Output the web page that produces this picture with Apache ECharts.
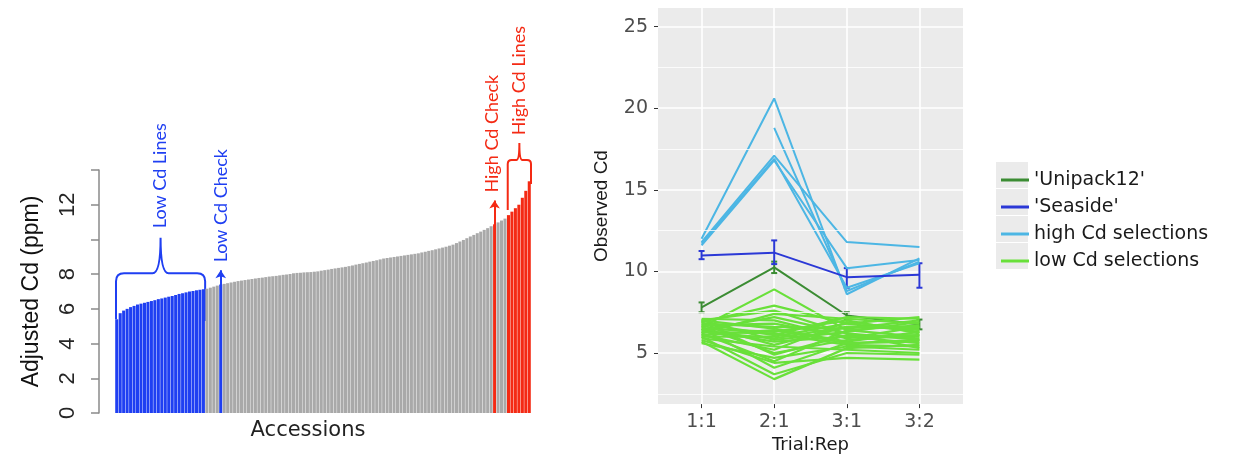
<!DOCTYPE html>
<html>
<head>
<meta charset="utf-8">
<script src="https://cdn.jsdelivr.net/npm/echarts@6/dist/echarts.min.js"></script>
<style>
  html, body { margin: 0; padding: 0; background: #fff; }
  #main { width: 1238px; height: 459px; }
</style>
</head>
<body>
<div id="main"></div>
<script>
// left panel: adjusted Cd per accession, sorted
var lowLineCd = [5.4, 5.75, 5.9, 6.0, 6.1, 6.17, 6.25, 6.3, 6.35, 6.4, 6.45, 6.5, 6.56,
  6.6, 6.65, 6.7, 6.74, 6.8, 6.86, 6.9, 6.95, 7.0, 7.03, 7.07, 7.1, 7.13];
var accessionCd = [7.16, 7.22, 7.28, 7.34, 7.4,
  7.44, 7.48, 7.52, 7.56, 7.6, 7.63, 7.66, 7.69, 7.72,
  7.75, 7.78, 7.8, 7.83, 7.86, 7.88, 7.9, 7.93, 7.96, 7.98, 8.01, 8.05,
  8.07, 8.08, 8.1, 8.11, 8.12, 8.14, 8.16,
  8.2, 8.23, 8.26, 8.3, 8.33, 8.36, 8.39, 8.42, 8.46, 8.5,
  8.55, 8.59, 8.63, 8.67, 8.72, 8.76, 8.8, 8.85, 8.9,
  8.93, 8.96, 8.99, 9.02, 9.05, 9.08, 9.11, 9.14, 9.17, 9.2,
  9.25, 9.29, 9.34, 9.38, 9.43, 9.48, 9.53, 9.58, 9.64, 9.7,
  9.79, 9.88, 9.97, 10.07, 10.17,
  10.26, 10.36, 10.45, 10.55, 10.65,
  10.76, 10.87, 10.98, 11.09, 11.2];
var highLineCd = [11.4, 11.6, 11.8, 12.0, 12.4, 12.8, 13.35];
var lowCheckAt = 30;
var highCheckAt = 109;
var yTicksLeft = [0, 2, 4, 6, 8, 12];

// right panel: observed Cd by trial:rep
var reps = ['1:1', '2:1', '3:1', '3:2'];
var unipack = [7.8, 10.25, 7.3, 6.75];
var unipackErr = [[7.5, 8.1], [9.9, 10.6], [7.05, 7.5], [6.45, 7.05]];
var seaside = [10.98, 11.15, 9.65, 9.8];
var seasideErr = [[10.75, 11.25], [10.45, 11.9], [9.0, 10.2], [9.0, 10.5]];
var highSel = [
  [12.0, 20.6, 8.6, 10.8],
  [null, 18.8, 8.8, 10.6],
  [11.8, 17.1, 11.8, 11.5],
  [11.6, 16.8, 10.2, 10.7],
  [11.7, 16.9, 9.0, 10.5]
];
var lowSel = [
  [6.6, 8.9, 6.4, 6.0], [6.9, 7.9, 6.8, 6.3], [7.0, 7.6, 6.2, 5.8], [6.2, 7.4, 7.1, 6.8],
  [7.1, 7.0, 5.9, 6.6], [6.8, 6.6, 6.5, 7.0], [6.5, 6.3, 7.0, 6.2], [6.3, 6.2, 5.5, 5.4],
  [6.0, 6.0, 6.8, 7.2], [7.0, 5.8, 6.3, 6.9], [6.4, 5.7, 6.0, 5.6], [6.7, 5.5, 6.6, 6.5],
  [5.9, 5.4, 5.2, 5.0], [6.1, 5.2, 6.9, 6.4], [6.6, 5.0, 5.8, 6.1], [6.9, 4.9, 6.1, 5.9],
  [5.6, 4.7, 5.4, 5.2], [6.2, 4.5, 6.4, 6.7], [5.8, 4.4, 4.7, 4.6], [6.5, 4.1, 5.6, 5.8],
  [6.0, 3.7, 5.0, 4.9], [5.7, 3.4, 5.3, 5.5], [6.8, 6.1, 7.2, 7.1], [7.0, 6.5, 5.7, 6.3],
  [6.3, 5.9, 6.6, 6.6], [6.4, 7.2, 6.2, 5.3], [6.7, 6.8, 6.0, 6.1], [6.1, 6.4, 5.6, 5.7]
];

var BLUE = '#1f3ff2', RED = '#f42a14', GREY = '#a9a9a9';
var C_UNI = '#3b8c33', C_SEA = '#2b38d6', C_HIGH = '#4cb6e4', C_LOW = '#69e03a';

var chart = echarts.init(document.getElementById('main'));

// bars
var cats = [], bars = [];
lowLineCd.forEach(function (v) { cats.push('acc' + cats.length); bars.push({ value: v, itemStyle: { color: BLUE } }); });
accessionCd.forEach(function (v) { cats.push('acc' + cats.length); bars.push({ value: v, itemStyle: { color: GREY } }); });
highLineCd.forEach(function (v) { cats.push('acc' + cats.length); bars.push({ value: v, itemStyle: { color: RED } }); });
bars[lowCheckAt].itemStyle = { color: BLUE };
bars[highCheckAt].itemStyle = { color: RED };

function pts(vals) {
  return vals.map(function (v, i) { return [i + 1, v]; });
}
function lineSeries(name, vals, color, w) {
  return {
    name: name, type: 'line', xAxisIndex: 1, yAxisIndex: 1,
    data: pts(vals), symbol: 'none', silent: true,
    lineStyle: { color: color, width: w }, itemStyle: { color: color }
  };
}
function errSeries(name, errs, color) {
  return {
    name: name, type: 'custom', xAxisIndex: 1, yAxisIndex: 1, silent: true,
    data: errs.map(function (e, i) { return [i + 1, e[0], e[1]]; }),
    encode: { x: 0, y: [1, 2] },
    renderItem: function (params, api) {
      var lo = api.coord([api.value(0), api.value(1)]);
      var hi = api.coord([api.value(0), api.value(2)]);
      var c = 3, st = { stroke: color, lineWidth: 2 };
      return {
        type: 'group', children: [
          { type: 'line', shape: { x1: lo[0], y1: lo[1], x2: hi[0], y2: hi[1] }, style: st },
          { type: 'line', shape: { x1: lo[0] - c, y1: lo[1], x2: lo[0] + c, y2: lo[1] }, style: st },
          { type: 'line', shape: { x1: hi[0] - c, y1: hi[1], x2: hi[0] + c, y2: hi[1] }, style: st }
        ]
      };
    }
  };
}

// braces and labels drawn through the left grid's scales
function bracePath(x0, x1, yt, ybL, ybR, yp, r, k) {
  var xm = (x0 + x1) / 2;
  return 'M' + x0 + ' ' + ybL + ' L' + x0 + ' ' + (yt + r) + ' Q' + x0 + ' ' + yt + ' ' + (x0 + r) + ' ' + yt +
    ' L' + (xm - k) + ' ' + yt + ' Q' + xm + ' ' + yt + ' ' + xm + ' ' + yp +
    ' Q' + xm + ' ' + yt + ' ' + (xm + k) + ' ' + yt +
    ' L' + (x1 - r) + ' ' + yt + ' Q' + x1 + ' ' + yt + ' ' + x1 + ' ' + (yt + r) + ' L' + x1 + ' ' + ybR;
}
function vText(x, y, text, color) {
  return {
    type: 'text', x: x, y: y, rotation: Math.PI / 2,
    style: { text: text, fill: color, font: '18px Lato', align: 'left', verticalAlign: 'middle' }
  };
}
function renderNotes(params, api) {
  var nLow = lowLineCd.length, nAll = cats.length;
  var px = function (i, v) { return api.coord([i, v]); };
  var half = api.size([1, 0])[0] / 2;
  var lx0 = px(0, 0)[0] - half + 1, lx1 = px(nLow - 1, 0)[0] + half;
  var hx0 = px(nAll - highLineCd.length, 0)[0] - half + 1, hx1 = px(nAll - 1, 0)[0] + half;
  return {
    type: 'group', children: [
      {
        type: 'path',
        shape: { pathData: bracePath(lx0, lx1, px(0, 8.05)[1], px(0, 5.4)[1], px(0, 5.3)[1], px(0, 10.1)[1], 8, 8) },
        style: { stroke: BLUE, lineWidth: 2, fill: 'none' }
      },
      {
        type: 'path',
        shape: { pathData: bracePath(hx0, hx1, px(0, 14.57)[1], px(0, 11.7)[1], px(0, 13.2)[1], px(0, 15.55)[1], 4, 3) },
        style: { stroke: RED, lineWidth: 2, fill: 'none' }
      },
      vText((lx0 + lx1) / 2, px(0, 10.65)[1], 'Low Cd Lines', BLUE),
      vText(px(lowCheckAt, 0)[0], px(0, 8.68)[1], 'Low Cd Check', BLUE),
      vText(px(highCheckAt, 0)[0] - 2, px(0, 12.7)[1], 'High Cd Check', RED),
      vText((hx0 + hx1) / 2, px(0, 16.0)[1], 'High Cd Lines', RED)
    ]
  };
}

var series = [];
series.push({
  type: 'bar', xAxisIndex: 0, yAxisIndex: 0, data: bars,
  barCategoryGap: '12%', silent: true,
  markLine: {
    silent: true, symbol: ['none', 'arrow'], symbolSize: 8,
    label: { show: false },
    data: [
      [{ coord: [lowCheckAt, 0], lineStyle: { color: BLUE, width: 2, type: 'solid' } }, { coord: [lowCheckAt, 8.22] }],
      [{ coord: [highCheckAt, 0], lineStyle: { color: RED, width: 2, type: 'solid' } }, { coord: [highCheckAt, 12.25] }]
    ]
  }
});
series.push({
  type: 'custom', xAxisIndex: 0, yAxisIndex: 0, clip: false, silent: true,
  data: [[0, 0]], renderItem: renderNotes
});
// minor grid holder for right panel
series.push({
  type: 'line', xAxisIndex: 1, yAxisIndex: 1, data: [], z: 1, silent: true,
  markLine: {
    silent: true, symbol: 'none', label: { show: false },
    lineStyle: { color: '#ffffff', width: 0.8, type: 'solid' },
    data: [{ yAxis: 2.5 }, { yAxis: 7.5 }, { yAxis: 12.5 }, { yAxis: 17.5 }, { yAxis: 22.5 }]
  }
});
series.push(lineSeries("'Unipack12'", unipack, C_UNI, 2));
series.push(errSeries("'Unipack12'", unipackErr, C_UNI));
highSel.forEach(function (v) { series.push(lineSeries('high Cd selections', v, C_HIGH, 2)); });
lowSel.forEach(function (v) { series.push(lineSeries('low Cd selections', v, C_LOW, 2.2)); });
series.push(lineSeries("'Seaside'", seaside, C_SEA, 2));
series.push(errSeries("'Seaside'", seasideErr, C_SEA));

var option = {
  animation: false,
  grid: [
    { left: 115, right: 707, top: 170, bottom: 46 },
    { left: 658, right: 275, top: 8, bottom: 48, show: true, backgroundColor: '#ebebeb', borderWidth: 0 }
  ],
  legend: {
    data: ["'Unipack12'", "'Seaside'", 'high Cd selections', 'low Cd selections'],
    orient: 'vertical', left: 996, top: 165,
    icon: 'rect', itemWidth: 28, itemHeight: 3, itemGap: 7,
    selectedMode: false,
    textStyle: { fontFamily: 'DejaVu Sans', fontSize: 19, color: '#1a1a1a', lineHeight: 20 }
  },
  graphic: [0, 1, 2, 3].map(function (k) {
    return { type: 'rect', z: -1, silent: true, shape: { x: 996, y: 162 + k * 27, width: 32, height: 26 }, style: { fill: '#ebebeb' } };
  }),
  xAxis: [
    {
      type: 'category', gridIndex: 0, data: cats,
      axisLine: { show: false }, axisTick: { show: false }, axisLabel: { show: false },
      name: 'Accessions', nameLocation: 'middle', nameGap: 7,
      nameTextStyle: { fontFamily: 'DejaVu Sans', fontSize: 21, color: '#222', padding: [0, 30, 0, 0] }
    },
    {
      type: 'value', gridIndex: 1, min: 0.4, max: 4.6,
      axisLine: { show: false },
      axisTick: { show: true, customValues: [1, 2, 3, 4], length: 4, lineStyle: { color: '#333' } },
      axisLabel: {
        customValues: [1, 2, 3, 4], margin: 8,
        formatter: function (v) { return reps[Math.round(v) - 1]; },
        fontFamily: 'DejaVu Sans', fontSize: 19, color: '#4d4d4d'
      },
      splitLine: { show: true, lineStyle: { color: '#ffffff', width: 1.6 } },
      name: 'Trial:Rep', nameLocation: 'middle', nameGap: 24,
      nameTextStyle: { fontFamily: 'DejaVu Sans', fontSize: 18, color: '#1a1a1a' }
    }
  ],
  yAxis: [
    {
      type: 'value', gridIndex: 0, min: 0, max: 14, interval: 2, offset: 16,
      axisLine: { show: true, lineStyle: { color: '#8a8a8a', width: 1.5 } },
      axisTick: { show: true, length: 8, lineStyle: { color: '#8a8a8a', width: 1.5 } },
      axisLabel: {
        rotate: 90, margin: 20,
        formatter: function (v) { return yTicksLeft.indexOf(v) >= 0 ? String(v) : ''; },
        fontFamily: 'Liberation Sans', fontSize: 22, color: '#262626'
      },
      splitLine: { show: false },
      name: 'Adjusted Cd (ppm)', nameLocation: 'middle', nameGap: 56,
      nameTextStyle: { fontFamily: 'Liberation Sans', fontSize: 23, color: '#111' }
    },
    {
      type: 'value', gridIndex: 1, min: 1.87, max: 26.14,
      axisLine: { show: false },
      axisTick: { show: true, customValues: [5, 10, 15, 20, 25], length: 4, lineStyle: { color: '#333' } },
      axisLabel: {
        customValues: [5, 10, 15, 20, 25], margin: 10,
        fontFamily: 'DejaVu Sans', fontSize: 19, color: '#4d4d4d'
      },
      splitLine: { show: true, lineStyle: { color: '#ffffff', width: 1.6 } },
      name: 'Observed Cd', nameLocation: 'middle', nameGap: 47,
      nameTextStyle: { fontFamily: 'Liberation Sans', fontSize: 19, color: '#1a1a1a' }
    }
  ],
  series: series
};
chart.setOption(option);
</script>
</body>
</html>
